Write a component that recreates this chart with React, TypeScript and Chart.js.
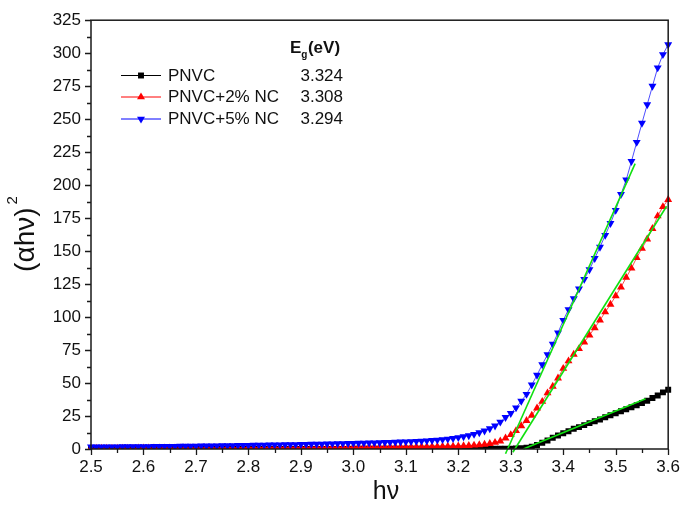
import React, { useEffect, useRef } from 'react';
import { Chart, registerables } from 'chart.js';

Chart.register(...registerables);

// photon energy hν (eV)
const hv = [
  2.50, 2.51, 2.52, 2.53, 2.54, 2.55, 2.56, 2.57, 2.58, 2.59,
  2.60, 2.61, 2.62, 2.63, 2.64, 2.65, 2.66, 2.67, 2.68, 2.69,
  2.70, 2.71, 2.72, 2.73, 2.74, 2.75, 2.76, 2.77, 2.78, 2.79,
  2.80, 2.81, 2.82, 2.83, 2.84, 2.85, 2.86, 2.87, 2.88, 2.89,
  2.90, 2.91, 2.92, 2.93, 2.94, 2.95, 2.96, 2.97, 2.98, 2.99,
  3.00, 3.01, 3.02, 3.03, 3.04, 3.05, 3.06, 3.07, 3.08, 3.09,
  3.10, 3.11, 3.12, 3.13, 3.14, 3.15, 3.16, 3.17, 3.18, 3.19,
  3.20, 3.21, 3.22, 3.23, 3.24, 3.25, 3.26, 3.27, 3.28, 3.29,
  3.30, 3.31, 3.32, 3.33, 3.34, 3.35, 3.36, 3.37, 3.38, 3.39,
  3.40, 3.41, 3.42, 3.43, 3.44, 3.45, 3.46, 3.47, 3.48, 3.49,
  3.50, 3.51, 3.52, 3.53, 3.54, 3.55, 3.56, 3.57, 3.58, 3.59,
  3.60,
];

// (αhν)^2 for PNVC
const pnvc = [
  0.05, 0.05, 0.05, 0.05, 0.05, 0.05, 0.05, 0.05, 0.05, 0.05,
  0.06, 0.06, 0.06, 0.06, 0.06, 0.06, 0.06, 0.06, 0.06, 0.06,
  0.07, 0.07, 0.07, 0.07, 0.07, 0.07, 0.07, 0.07, 0.07, 0.07,
  0.08, 0.08, 0.08, 0.08, 0.08, 0.08, 0.08, 0.08, 0.08, 0.08,
  0.10, 0.10, 0.10, 0.10, 0.10, 0.10, 0.10, 0.10, 0.10, 0.10,
  0.12, 0.12, 0.13, 0.13, 0.14, 0.14, 0.15, 0.15, 0.16, 0.16,
  0.17, 0.17, 0.18, 0.18, 0.19, 0.20, 0.20, 0.21, 0.22, 0.23,
  0.20, 0.20, 0.21, 0.22, 0.22, 0.23, 0.24, 0.25, 0.26, 0.28,
  0.3, 0.4, 0.6, 1.0, 1.7, 3.0, 4.7, 6.5, 8.5, 10.3,
  12.0, 13.5, 15.3, 16.6, 18.1, 19.6, 21.1, 22.3, 24.1, 25.6,
  27.1, 28.6, 30.1, 31.6, 33.1, 34.9, 36.6, 38.6, 40.6, 42.9,
  44.9,
];

// (αhν)^2 for PNVC+2% NC
const pnvc2 = [
  0.50, 0.51, 0.52, 0.53, 0.54, 0.55, 0.56, 0.57, 0.58, 0.59,
  0.60, 0.61, 0.62, 0.63, 0.64, 0.65, 0.66, 0.67, 0.68, 0.69,
  0.70, 0.72, 0.74, 0.76, 0.78, 0.80, 0.82, 0.84, 0.86, 0.88,
  0.90, 0.92, 0.94, 0.96, 0.98, 1.00, 1.02, 1.04, 1.06, 1.08,
  1.10, 1.12, 1.14, 1.16, 1.18, 1.20, 1.22, 1.24, 1.27, 1.30,
  1.33, 1.36, 1.39, 1.42, 1.45, 1.48, 1.51, 1.54, 1.57, 1.60,
  1.64, 1.68, 1.72, 1.76, 1.80, 1.85, 1.90, 1.96, 2.02, 2.10,
  2.20, 2.35, 2.55, 2.80, 3.10, 3.50, 4.10, 4.90, 6.00, 8.20,
  10.8, 13.8, 17.5, 21.5, 25.5, 31.0, 36.0, 42.4, 47.4, 53.7,
  61.0, 66.7, 71.7, 76.0, 81.0, 86.3, 91.8, 97.6, 103.8, 109.6,
  116.0, 122.6, 130.0, 137.0, 145.0, 152.0, 159.0, 167.0, 176.6, 183.6,
  189.0,
];

// (αhν)^2 for PNVC+5% NC
const pnvc5 = [
  1.60, 1.63, 1.66, 1.69, 1.72, 1.75, 1.78, 1.81, 1.84, 1.87,
  1.90, 1.94, 1.98, 2.02, 2.06, 2.10, 2.14, 2.18, 2.22, 2.26,
  2.30, 2.35, 2.40, 2.45, 2.50, 2.55, 2.60, 2.66, 2.72, 2.78,
  2.84, 2.90, 2.96, 3.02, 3.09, 3.16, 3.23, 3.30, 3.37, 3.44,
  3.51, 3.59, 3.67, 3.75, 3.83, 3.91, 4.00, 4.09, 4.18, 4.27,
  4.36, 4.46, 4.56, 4.66, 4.77, 4.88, 5.00, 5.12, 5.25, 5.38,
  5.52, 5.70, 5.90, 6.10, 6.30, 6.55, 6.85, 7.20, 7.60, 8.10,
  8.70, 9.40, 10.2, 11.2, 12.4, 13.8, 15.5, 17.6, 20.5, 24.0,
  27.0, 31.3, 36.3, 41.5, 48.6, 56.0, 64.0, 71.5, 79.5, 88.0,
  97.6, 105.6, 114.0, 121.4, 128.7, 136.0, 144.5, 153.0, 162.0, 171.0,
  181.0, 193.0, 204.0, 218.0, 232.5, 247.0, 261.0, 275.0, 289.0, 299.0,
  306.5,
];

// linear fits (end points) used for Eg extrapolation
const fitPnvcX = [3.324, 3.557];
const fitPnvcY = [0, 38];
const fitPnvc2X = [3.304, 3.597];
const fitPnvc2Y = [-2.5, 184];
const fitPnvc5X = [3.29, 3.537];
const fitPnvc5Y = [-3.6, 216.3];

const seriesNames = ['PNVC', 'PNVC+2% NC', 'PNVC+5% NC'];
const bandGaps = ['3.324', '3.308', '3.294'];
const seriesColors = ['#000000', '#ff0000', '#0000ff'];

const xMin = 2.5;
const xMax = 3.6;
const xStep = 0.1;
const yMin = 0;
const yMax = 325;
const yStep = 25;

const FONT = '"Liberation Sans", Arial, Helvetica, sans-serif';

function pts(xs: number[], ys: number[]) {
  return xs.map((x, i) => ({ x, y: ys[i] }));
}

function drawMarker(ctx: CanvasRenderingContext2D, kind: string, x: number, y: number, r: number, color: string) {
  ctx.save();
  ctx.fillStyle = color;
  ctx.beginPath();
  if (kind === 'square') {
    const s = r * Math.SQRT1_2;
    ctx.rect(x - s, y - s, 2 * s, 2 * s);
  } else {
    const dir = kind === 'up' ? -1 : 1;
    const h = Math.sqrt(3) / 2 * r;
    ctx.moveTo(x, y + dir * r);
    ctx.lineTo(x + h, y - dir * r / 2);
    ctx.lineTo(x - h, y - dir * r / 2);
    ctx.closePath();
  }
  ctx.fill();
  ctx.restore();
}

const decorPlugin = {
  id: 'decor',
  afterDraw(chart: any) {
    const { ctx, chartArea: a, scales } = chart;
    const xs = scales.x;
    const ys = scales.y;
    ctx.save();
    // frame
    ctx.strokeStyle = '#1a1a1a';
    ctx.lineWidth = 1.5;
    ctx.strokeRect(a.left, a.top, a.right - a.left, a.bottom - a.top);
    // ticks
    ctx.lineWidth = 1.3;
    ctx.beginPath();
    const nY = Math.round((yMax - yMin) / (yStep / 2));
    for (let i = 0; i <= nY; i++) {
      const v = yMin + i * yStep / 2;
      const py = Math.round(ys.getPixelForValue(v)) + 0.5;
      const len = i % 2 === 0 ? 6 : 4;
      ctx.moveTo(a.left, py);
      ctx.lineTo(a.left - len, py);
    }
    const nX = Math.round((xMax - xMin) / (xStep / 2));
    for (let i = 0; i <= nX; i++) {
      const v = xMin + i * xStep / 2;
      const px = Math.round(xs.getPixelForValue(v)) + 0.5;
      const len = i % 2 === 0 ? 6 : 4;
      ctx.moveTo(px, a.bottom);
      ctx.lineTo(px, a.bottom + len);
    }
    ctx.stroke();

    // axis titles
    ctx.fillStyle = '#111';
    ctx.font = `25px ${FONT}`;
    ctx.textAlign = 'center';
    ctx.textBaseline = 'middle';
    ctx.fillText('hν', 386, 492);

    ctx.save();
    ctx.translate(26, 234);
    ctx.rotate(-Math.PI / 2);
    ctx.font = `28px ${FONT}`;
    const main = '(αhν)';
    const wMain = ctx.measureText(main).width;
    ctx.font = `15px ${FONT}`;
    const wSup = ctx.measureText('2').width;
    const total = wMain + 3 + wSup;
    ctx.textAlign = 'left';
    ctx.font = `28px ${FONT}`;
    ctx.fillText(main, -total / 2, 0);
    ctx.font = `15px ${FONT}`;
    ctx.fillText('2', -total / 2 + wMain + 3, -13);
    ctx.restore();

    // legend
    const rowsY = [75, 96.5, 118.5];
    const kinds = ['square', 'up', 'down'];
    const radii = [4.2, 4.6, 4.6];
    ctx.textBaseline = 'middle';
    for (let i = 0; i < 3; i++) {
      const y = rowsY[i];
      ctx.strokeStyle = seriesColors[i];
      ctx.lineWidth = 1;
      ctx.beginPath();
      ctx.moveTo(121, y + 0.5);
      ctx.lineTo(161, y + 0.5);
      ctx.stroke();
      drawMarker(ctx, kinds[i], 141, y + 0.5, radii[i], seriesColors[i]);
      ctx.fillStyle = '#111';
      ctx.font = `17px ${FONT}`;
      ctx.textAlign = 'left';
      ctx.fillText(seriesNames[i], 168, y + 1);
      ctx.textAlign = 'right';
      ctx.fillText(bandGaps[i], 343, y + 1);
    }
    // header E_g(eV)
    ctx.textAlign = 'left';
    ctx.font = `bold 17px ${FONT}`;
    let hx = 290;
    const hy = 48;
    ctx.fillText('E', hx, hy);
    hx += ctx.measureText('E').width;
    ctx.font = `bold 10px ${FONT}`;
    ctx.fillText('g', hx, hy + 7);
    hx += ctx.measureText('g').width + 0.5;
    ctx.font = `bold 17px ${FONT}`;
    ctx.fillText('(eV)', hx, hy);

    ctx.restore();
  },
};

export default function App() {
  const ref = useRef<HTMLCanvasElement | null>(null);

  useEffect(() => {
    if (!ref.current) return;
    const clipPts = { left: 10, right: 10, top: 10, bottom: 0 };
    const fitStyle = {
      showLine: true,
      borderColor: '#10e010',
      borderWidth: 1.6,
      pointRadius: 0,
      clip: false,
      order: 0,
    };
    const chart = new Chart(ref.current, {
      type: 'scatter',
      data: {
        datasets: [
          { label: 'fit PNVC', data: pts(fitPnvcX, fitPnvcY), ...fitStyle },
          { label: 'fit PNVC+2% NC', data: pts(fitPnvc2X, fitPnvc2Y), ...fitStyle },
          { label: 'fit PNVC+5% NC', data: pts(fitPnvc5X, fitPnvc5Y), ...fitStyle },
          {
            label: seriesNames[2],
            data: pts(hv, pnvc5),
            showLine: true,
            borderColor: seriesColors[2],
            borderWidth: 0.7,
            pointStyle: 'triangle',
            rotation: 180,
            pointRadius: 4.6,
            pointBorderWidth: 0,
            pointBackgroundColor: seriesColors[2],
            clip: clipPts,
            order: 1,
          },
          {
            label: seriesNames[1],
            data: pts(hv, pnvc2),
            showLine: true,
            borderColor: seriesColors[1],
            borderWidth: 0.7,
            pointStyle: 'triangle',
            pointRadius: 4.6,
            pointBorderWidth: 0,
            pointBackgroundColor: seriesColors[1],
            clip: clipPts,
            order: 2,
          },
          {
            label: seriesNames[0],
            data: pts(hv, pnvc),
            showLine: true,
            borderColor: seriesColors[0],
            borderWidth: 0.7,
            pointStyle: 'rect',
            pointRadius: 4.2,
            pointBorderWidth: 0,
            pointBackgroundColor: seriesColors[0],
            clip: clipPts,
            order: 3,
          },
        ],
      },
      options: {
        animation: false,
        responsive: false,
        devicePixelRatio: 1,
        layout: { padding: { left: 0, right: 13, top: 17, bottom: 0 } },
        plugins: {
          legend: { display: false },
          tooltip: { enabled: false },
          title: { display: false },
        },
        scales: {
          x: {
            type: 'linear',
            min: xMin,
            max: xMax,
            grid: { display: false, drawTicks: false },
            border: { display: false },
            ticks: {
              stepSize: xStep,
              padding: 8,
              color: '#111',
              font: { family: FONT, size: 17 },
              maxRotation: 0,
              autoSkip: false,
              callback: (v: any) => Number(v).toFixed(1),
            },
            afterFit: (s: any) => {
              s.height = 59;
            },
          },
          y: {
            type: 'linear',
            min: yMin,
            max: yMax,
            grid: { display: false, drawTicks: false },
            border: { display: false },
            ticks: {
              stepSize: yStep,
              padding: 10,
              color: '#111',
              font: { family: FONT, size: 17 },
              autoSkip: false,
            },
            afterFit: (s: any) => {
              s.width = 91;
            },
          },
        },
      },
      plugins: [decorPlugin],
    } as any);
    return () => chart.destroy();
  }, []);

  return (
    <div style={{ position: 'fixed', left: 0, top: 0, width: 688, height: 508, background: '#fff' }}>
      <canvas ref={ref} width={688} height={508} style={{ width: 688, height: 508, display: 'block' }} />
    </div>
  );
}
